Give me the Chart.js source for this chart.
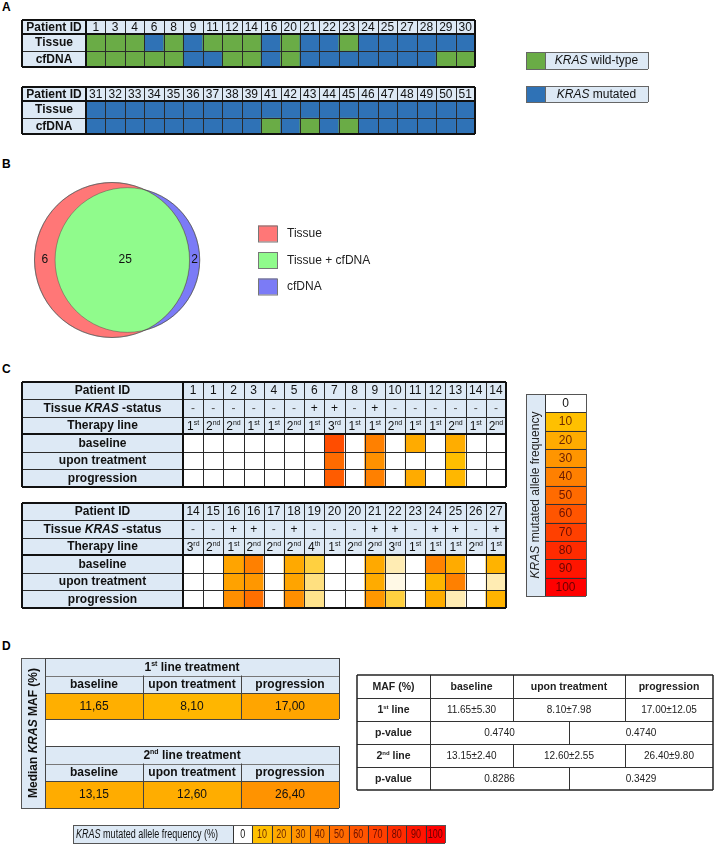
<!DOCTYPE html>
<html>
<head>
<meta charset="utf-8">
<script src="https://cdn.jsdelivr.net/npm/chart.js@4.4.1/dist/chart.umd.min.js"></script>
<style>
  html, body { margin: 0; padding: 0; background: #fff; }
  body { position: relative; width: 721px; height: 844px; overflow: hidden; }
  canvas { position: absolute; }
  .panel { position: absolute; font: bold 12px "Liberation Sans", Arial, sans-serif; line-height: 12px; color: #000; }
</style>
</head>
<body>
<div class="panel" style="left:2px;top:1px">A</div>
<div class="panel" style="left:2px;top:158px">B</div>
<div class="panel" style="left:2px;top:363px">C</div>
<div class="panel" style="left:2px;top:640px">D</div>
<script>
// ---- A: KRAS status per patient (W = wild-type, M = mutated)
var idsA1 = [1, 3, 4, 6, 8, 9, 11, 12, 14, 16, 20, 21, 22, 23, 24, 25, 27, 28, 29, 30];
var tissueA1 = ['W','W','W','M','W','M','W','W','W','M','W','M','M','W','M','M','M','M','M','M'];
var cfdnaA1  = ['W','W','W','W','W','M','M','W','W','M','W','M','M','M','M','M','M','M','W','W'];
var idsA2 = [31, 32, 33, 34, 35, 36, 37, 38, 39, 41, 42, 43, 44, 45, 46, 47, 48, 49, 50, 51];
var tissueA2 = ['M','M','M','M','M','M','M','M','M','M','M','M','M','M','M','M','M','M','M','M'];
var cfdnaA2  = ['M','M','M','M','M','M','M','M','M','W','M','W','M','W','M','M','M','M','M','M'];
var statusLegend = ['wild-type', 'mutated'];

// ---- B: concordance
var vennSets = ['Tissue', 'Tissue + cfDNA', 'cfDNA'];
var vennCounts = [6, 25, 2];

// ---- C: KRAS mutated allele frequency (%) per sample
var idsC1 = [1, 1, 2, 3, 4, 5, 6, 7, 8, 9, 10, 11, 12, 13, 14, 14];
var statusC1 = ['-','-','-','-','-','-','+','+','-','+','-','-','-','-','-','-'];
var lineC1 = ['1st','2nd','2nd','1st','1st','2nd','1st','3rd','1st','1st','2nd','1st','1st','2nd','1st','2nd'];
var baseC1 = [0, 0, 0, 0, 0, 0, 0, 64, 0, 40, 0, 20, 0, 19, 0, 0];
var uponC1 = [0, 0, 0, 0, 0, 0, 0, 50, 0, 32, 0, 0, 0, 11, 0, 0];
var progC1 = [0, 0, 0, 0, 0, 0, 0, 57, 0, 40, 0, 20, 0, 14, 0, 0];

var idsC2 = [14, 15, 16, 16, 17, 18, 19, 20, 20, 21, 22, 23, 24, 25, 26, 27];
var statusC2 = ['-','-','+','+','-','+','-','-','-','+','+','-','+','+','-','+'];
var lineC2 = ['3rd','2nd','1st','2nd','2nd','2nd','4th','1st','2nd','2nd','3rd','1st','1st','1st','2nd','1st'];
var baseC2 = [0, 0, 23, 40, 0, 21, 7.5, 0, 0, 21, 3, 0, 38, 20, 0, 16];
var uponC2 = [0, 0, 24, 29, 0, 23, 5, 0, 0, 20, 1, 0, 15, 40, 0, 3];
var progC2 = [0, 0, 33, 48, 0, 33, 4.5, 0, 0, 29, 7.5, 0, 19, 3, 0, 16];
var sampleRows = ['baseline', 'upon treatment', 'progression'];
var scaleSteps = [0, 10, 20, 30, 40, 50, 60, 70, 80, 90, 100];

// ---- D: median / mean MAF (%)
var phases = ['baseline', 'upon treatment', 'progression'];
var dLines = ['1st', '2nd'];
var medianLine1 = [11.65, 8.10, 17.00];
var medianLine2 = [13.15, 12.60, 26.40];
var meanLine1 = [11.65, 8.10, 17.00];
var sdLine1 = [5.30, 7.98, 12.05];
var meanLine2 = [13.15, 12.60, 26.40];
var sdLine2 = [2.40, 2.55, 9.80];
var pLine1 = [0.4740, 0.4740];
var pLine2 = [0.8286, 0.3429];

// ---------------------------------------------------------------
var FONT = '"Liberation Sans", Arial, Helvetica, sans-serif';
var LB = '#dde9f5', INK = '#111', GRID = '#2a2a2a';
var GREEN = '#6aac46', BLUE = '#2f72b6';

function font(size, bold, italic) {
  return (italic ? 'italic ' : '') + (bold ? 'bold ' : '') + size + 'px ' + FONT;
}
function mafColor(v) {
  if (v <= 0) return '#ffffff';
  if (v < 10) {
    var f = v / 10;
    return 'rgb(255,' + Math.round(255 - 63 * f) + ',' + Math.round(255 * (1 - f)) + ')';
  }
  return 'rgb(255,' + Math.round(192 - (v - 10) * 192 / 90) + ',0)';
}
function dColor(v) { return 'rgb(255,' + Math.round(197 - 1.9 * v) + ',0)'; }
function statusColor(s) { return s === 'W' ? GREEN : BLUE; }

function mk(x, y, w, h) {
  var c = document.createElement('canvas');
  c.width = w + 4; c.height = h + 4;
  c.style.left = (x - 2) + 'px'; c.style.top = (y - 2) + 'px';
  document.body.appendChild(c);
  return c;
}
function opts(extra) {
  var o = {
    responsive: false, animation: false, devicePixelRatio: 1, events: [],
    plugins: { legend: { display: false }, tooltip: { enabled: false } }
  };
  for (var k in extra) o[k] = extra[k];
  return o;
}
function pad(l, t, r, b) { return { autoPadding: false, padding: { left: l, top: t, right: r, bottom: b } }; }
function gridData(labels, rows) {
  return {
    labels: labels,
    datasets: rows.map(function (colors) {
      return { data: labels.map(function () { return 1; }), backgroundColor: colors,
               borderWidth: 0, barPercentage: 1, categoryPercentage: 1 };
    })
  };
}
function gridScales(n) {
  return { x: { display: false, stacked: true },
           y: { display: false, stacked: true, min: 0, max: n, reverse: true } };
}
function colEdges(scale, n) {
  var c0 = scale.getPixelForValue(0);
  var step = n > 1 ? scale.getPixelForValue(1) - c0 : (scale.right - scale.left);
  var e = [];
  for (var i = 0; i <= n; i++) e.push(c0 - step / 2 + i * step);
  return e;
}
function rowEdges(scale, n) {
  var e = [];
  for (var i = 0; i <= n; i++) e.push(scale.getPixelForValue(i));
  return e;
}
function seg(ctx, x1, y1, x2, y2, w, c) {
  ctx.beginPath();
  ctx.lineWidth = w; ctx.strokeStyle = c;
  var o = Math.round(w) % 2 === 1 ? 0.5 : 0;
  if (y1 === y2) { y1 = y2 = Math.round(y1) + o; } else { x1 = x2 = Math.round(x1) + o; }
  ctx.moveTo(x1, y1); ctx.lineTo(x2, y2); ctx.stroke();
}
function box(ctx, x1, y1, x2, y2, w, c) {
  seg(ctx, x1, y1, x2, y1, w, c); seg(ctx, x1, y2, x2, y2, w, c);
  seg(ctx, x1, y1, x1, y2, w, c); seg(ctx, x2, y1, x2, y2, w, c);
}
function rich(ctx, parts, x, y, align) {
  var w = 0;
  parts.forEach(function (p) { ctx.font = p[1]; w += ctx.measureText(p[0]).width; });
  var sx = align === 'left' ? x : x - w / 2;
  ctx.textAlign = 'left'; ctx.textBaseline = 'middle';
  parts.forEach(function (p) {
    ctx.font = p[1];
    ctx.fillText(p[0], sx, y + (p[2] || 0));
    sx += ctx.measureText(p[0]).width;
  });
  return w;
}
function ord(s, size, bold) {
  var n = s.match(/^\d+/)[0];
  return [[n, font(size, bold)], [s.slice(n.length), font(Math.round(size * 0.6), bold), -size * 0.3]];
}
function vtext(ctx, parts, cx, cy) {
  ctx.save(); ctx.translate(cx, cy); ctx.rotate(-Math.PI / 2);
  rich(ctx, parts, 0, 0); ctx.restore();
}

// ---------------------------------------------------------------- A
function legendA(ctx, a) {
  [[GREEN, statusLegend[0], 18, 17], [BLUE, statusLegend[1], 52, 16]].forEach(function (it) {
    var x = a.right + 51, y = a.top + it[2], h = it[3];
    ctx.fillStyle = it[0]; ctx.fillRect(x, y, 19, h);
    ctx.fillStyle = LB; ctx.fillRect(x + 19, y, 103, h);
    ctx.fillStyle = INK;
    rich(ctx, [['KRAS', font(12, false, true)], [' ' + it[1], font(12)]], x + 19 + 51.5, y + h / 2 + 0.5);
    box(ctx, x, y, x + 122, y + h, 1, '#666');
    seg(ctx, x + 19, y, x + 19, y + h, 1, '#666');
  });
}
function tableA(ids, rowNames, legend) {
  return { id: 'tableA', afterDatasetsDraw: function (chart) {
    var ctx = chart.ctx, a = chart.chartArea, L = 2, T = 2;
    var xs = colEdges(chart.scales.x, ids.length);
    var ys = rowEdges(chart.scales.y, rowNames.length);
    ctx.save();
    ctx.fillStyle = LB;
    ctx.fillRect(L, T, a.right - L, a.top - T);
    ctx.fillRect(L, a.top, a.left - L, a.bottom - a.top);
    ctx.fillStyle = INK;
    var hy = (T + a.top) / 2 + 0.5;
    rich(ctx, [['Patient ID', font(12, true)]], (L + a.left) / 2, hy);
    ids.forEach(function (id, i) { rich(ctx, [[String(id), font(12)]], (xs[i] + xs[i + 1]) / 2, hy); });
    rowNames.forEach(function (r, i) { rich(ctx, [[r, font(12, true)]], (L + a.left) / 2, (ys[i] + ys[i + 1]) / 2 + 0.5); });
    for (var i = 1; i < ids.length; i++) seg(ctx, xs[i], T, xs[i], a.bottom, 1, GRID);
    for (var j = 1; j < rowNames.length; j++) seg(ctx, L, ys[j], a.right, ys[j], 1, GRID);
    seg(ctx, L, a.top, a.right, a.top, 2, INK);
    seg(ctx, a.left, T, a.left, a.bottom, 2, INK);
    box(ctx, L, T, a.right, a.bottom, 2, INK);
    if (legend) legend(ctx, a);
    ctx.restore();
  } };
}
new Chart(mk(22, 20, 628, 84), {
  type: 'bar',
  data: gridData(idsA1, [tissueA1.map(statusColor), cfdnaA1.map(statusColor)]),
  options: opts({ layout: pad(66, 16, 177, 39), scales: gridScales(2) }),
  plugins: [tableA(idsA1, ['Tissue', 'cfDNA'], legendA)]
});
new Chart(mk(22, 87, 453, 47), {
  type: 'bar',
  data: gridData(idsA2, [tissueA2.map(statusColor), cfdnaA2.map(statusColor)]),
  options: opts({ layout: pad(66, 16, 2, 2), scales: gridScales(2) }),
  plugins: [tableA(idsA2, ['Tissue', 'cfDNA'], null)]
});

// ---------------------------------------------------------------- B
var RED_V = '#ff7777', GREEN_V = '#90fb8c', BLUE_V = '#7b7bf6';
var nTissue = vennCounts[0] + vennCounts[1], nCf = vennCounts[1] + vennCounts[2];
var kR = 13.92;
var rT = kR * Math.sqrt(nTissue), rC = kR * Math.sqrt(nCf);
function lens(d, r1, r2) {
  if (d <= Math.abs(r1 - r2)) return Math.PI * Math.pow(Math.min(r1, r2), 2);
  var a1 = Math.acos((d * d + r1 * r1 - r2 * r2) / (2 * d * r1));
  var a2 = Math.acos((d * d + r2 * r2 - r1 * r1) / (2 * d * r2));
  return r1 * r1 * a1 + r2 * r2 * a2 -
    0.5 * Math.sqrt((-d + r1 + r2) * (d + r1 - r2) * (d - r1 + r2) * (d + r1 + r2));
}
var target = vennCounts[1] / nTissue * Math.PI * rT * rT;
var lo = Math.abs(rT - rC), hi = rT + rC;
for (var it = 0; it < 60; it++) {
  var m = (lo + hi) / 2;
  if (lens(m, rT, rC) > target) lo = m; else hi = m;
}
var dist = (lo + hi) / 2;
var cxT = 112;

new Chart((function () {
  var c = document.createElement('canvas');
  c.width = 400; c.height = 170; c.style.left = '0px'; c.style.top = '175px';
  document.body.appendChild(c); return c;
})(), {
  type: 'bubble',
  data: { datasets: [
    { label: vennSets[0], data: [{ x: cxT, y: 0, r: rT }], backgroundColor: RED_V, borderColor: 'rgba(90,90,90,0.6)', borderWidth: 1 },
    { label: vennSets[2], data: [{ x: cxT + dist, y: 0, r: rC }], backgroundColor: BLUE_V, borderColor: 'rgba(90,90,90,0.6)', borderWidth: 1 }
  ] },
  options: opts({ layout: pad(0, 0, 160, 0),
    scales: { x: { display: false, min: 0, max: 240 }, y: { display: false, min: -85, max: 85 } } }),
  plugins: [{ id: 'venn', afterDatasetsDraw: function (chart) {
    var ctx = chart.ctx, a = chart.chartArea;
    var t = chart.getDatasetMeta(0).data[0], c = chart.getDatasetMeta(1).data[0];
    var rt = t.options.radius, rc = c.options.radius;
    ctx.save();
    ctx.beginPath(); ctx.arc(t.x, t.y, rt, 0, 2 * Math.PI); ctx.clip();
    ctx.beginPath(); ctx.arc(c.x, c.y, rc, 0, 2 * Math.PI);
    ctx.fillStyle = GREEN_V; ctx.fill();
    ctx.restore();
    ctx.save();
    ctx.lineWidth = 0.8; ctx.strokeStyle = 'rgba(70,70,70,0.55)';
    ctx.beginPath(); ctx.arc(t.x, t.y, rt, 0, 2 * Math.PI); ctx.stroke();
    ctx.beginPath(); ctx.arc(c.x, c.y, rc, 0, 2 * Math.PI); ctx.stroke();
    ctx.fillStyle = INK;
    var tl = t.x - rt, tr = t.x + rt, cl = c.x - rc, cr = c.x + rc;
    rich(ctx, [[String(vennCounts[0]), font(12)]], (tl + cl) / 2, t.y);
    rich(ctx, [[String(vennCounts[1]), font(12)]], (cl + tr) / 2 + 3, t.y);
    rich(ctx, [[String(vennCounts[2]), font(12)]], (tr + cr) / 2, t.y);
    [RED_V, GREEN_V, BLUE_V].forEach(function (col, i) {
      var y = t.y + (i - 1) * 26.5;
      ctx.fillStyle = col; ctx.fillRect(a.right + 18, y - 8, 19, 16);
      ctx.lineWidth = 1; ctx.strokeStyle = '#777';
      ctx.strokeRect(a.right + 18.5, y - 7.5, 19, 16);
      ctx.fillStyle = '#222';
      rich(ctx, [[vennSets[i], font(12)]], a.right + 47, y + 0.5, 'left');
    });
    ctx.restore();
  } }]
});

// ---------------------------------------------------------------- C
function tableC(ids, status, lines) {
  return { id: 'tableC', afterDatasetsDraw: function (chart) {
    var ctx = chart.ctx, a = chart.chartArea, L = 2, T = 2;
    var xs = colEdges(chart.scales.x, ids.length);
    var ys = rowEdges(chart.scales.y, sampleRows.length);
    var hh = (a.top - T) / 3, hy = [T, T + hh, T + 2 * hh, a.top];
    ctx.save();
    ctx.fillStyle = LB;
    ctx.fillRect(L, T, a.right - L, a.top - T);
    ctx.fillRect(L, a.top, a.left - L, a.bottom - a.top);
    ctx.fillStyle = INK;
    var cx = (L + a.left) / 2, B = font(12, true);
    var my = function (k) { return (hy[k] + hy[k + 1]) / 2 + 0.5; };
    rich(ctx, [['Patient ID', B]], cx, my(0));
    rich(ctx, [['Tissue ', B], ['KRAS', font(12, true, true)], [' -status', B]], cx, my(1));
    rich(ctx, [['Therapy line', B]], cx, my(2));
    sampleRows.forEach(function (r, i) { rich(ctx, [[r, B]], cx, (ys[i] + ys[i + 1]) / 2 + 0.5); });
    ids.forEach(function (id, i) {
      var mx = (xs[i] + xs[i + 1]) / 2;
      ctx.fillStyle = INK;
      rich(ctx, [[String(id), font(12)]], mx, my(0));
      ctx.fillStyle = status[i] === '+' ? INK : '#555';
      rich(ctx, [[status[i], font(12)]], mx, my(1));
      ctx.fillStyle = INK;
      rich(ctx, ord(lines[i], 12, false), mx, my(2) + 1);
    });
    for (var i = 1; i < ids.length; i++) seg(ctx, xs[i], T, xs[i], a.bottom, 1, GRID);
    seg(ctx, L, hy[1], a.right, hy[1], 1, GRID);
    seg(ctx, L, hy[2], a.right, hy[2], 1, GRID);
    for (var j = 1; j < sampleRows.length; j++) seg(ctx, L, ys[j], a.right, ys[j], 1, GRID);
    seg(ctx, L, a.top, a.right, a.top, 2, INK);
    seg(ctx, a.left, T, a.left, a.bottom, 2, INK);
    box(ctx, L, T, a.right, a.bottom, 2, INK);
    ctx.restore();
  } };
}
new Chart(mk(22, 382, 484, 105), {
  type: 'bar',
  data: gridData(idsC1, [baseC1.map(mafColor), uponC1.map(mafColor), progC1.map(mafColor)]),
  options: opts({ layout: pad(163, 54, 2, 2), scales: gridScales(3) }),
  plugins: [tableC(idsC1, statusC1, lineC1)]
});
new Chart(mk(22, 503, 484, 105), {
  type: 'bar',
  data: gridData(idsC2, [baseC2.map(mafColor), uponC2.map(mafColor), progC2.map(mafColor)]),
  options: opts({ layout: pad(163, 54, 2, 2), scales: gridScales(3) }),
  plugins: [tableC(idsC2, statusC2, lineC2)]
});

// colour key column
new Chart(mk(526, 394, 60, 202), {
  type: 'bar',
  data: { labels: scaleSteps.map(String), datasets: [{
    data: scaleSteps.map(function () { return 1; }), backgroundColor: scaleSteps.map(mafColor),
    borderWidth: 0, barPercentage: 1, categoryPercentage: 1 }] },
  options: opts({ indexAxis: 'y', layout: pad(21, 2, 2, 2),
    scales: { x: { display: false, min: 0, max: 1 }, y: { display: false } } }),
  plugins: [{ id: 'keyC', afterDatasetsDraw: function (chart) {
    var ctx = chart.ctx, a = chart.chartArea, L = 2, T = 2;
    var ys = colEdges(chart.scales.y, scaleSteps.length);
    ctx.save();
    ctx.fillStyle = LB; ctx.fillRect(L, T, a.left - L, a.bottom - T);
    ctx.fillStyle = '#222';
    vtext(ctx, [['KRAS', font(12, false, true)], [' mutated allele frequency', font(12)]], (L + a.left) / 2 + 0.5, (T + a.bottom) / 2);
    scaleSteps.forEach(function (s, i) {
      ctx.fillStyle = s === 0 ? '#111' : 'rgba(70,0,0,0.8)';
      rich(ctx, [[String(s), font(12)]], (a.left + a.right) / 2, (ys[i] + ys[i + 1]) / 2 + 0.5);
    });
    for (var i = 1; i < scaleSteps.length; i++) seg(ctx, a.left, ys[i], a.right, ys[i], 1, '#333');
    seg(ctx, a.left, T, a.left, a.bottom, 1, '#333');
    box(ctx, L, T, a.right, a.bottom, 1, '#555');
    ctx.restore();
  } }]
});

// ---------------------------------------------------------------- D
function tableD(lineLabel, values, withSide) {
  return { id: 'tableD', afterDatasetsDraw: function (chart) {
    var ctx = chart.ctx, a = chart.chartArea, L = 2, T = 2, H = chart.height - 2;
    var xs = colEdges(chart.scales.x, phases.length);
    var mid = (T + a.top) / 2;
    ctx.save();
    ctx.fillStyle = LB;
    ctx.fillRect(a.left, T, a.right - a.left, a.top - T);
    if (withSide) ctx.fillRect(L, T, a.left - L, H - T);
    ctx.fillStyle = INK;
    rich(ctx, ord(lineLabel, 12, true).concat([[' line treatment', font(12, true)]]), (a.left + a.right) / 2, (T + mid) / 2 + 1);
    phases.forEach(function (p, i) {
      var mx = (xs[i] + xs[i + 1]) / 2;
      rich(ctx, [[p, font(12, true)]], mx, (mid + a.top) / 2 + 0.5);
      rich(ctx, [[values[i].toFixed(2).replace('.', ','), font(12)]], mx, (a.top + a.bottom) / 2 + 0.5);
    });
    if (withSide) {
      vtext(ctx, [['Median ', font(12, true)], ['KRAS', font(12, true, true)], [' MAF (%)', font(12, true)]], (L + a.left) / 2 + 1, (T + H) / 2);
      box(ctx, L, T, a.left, H, 1, '#555');
    }
    seg(ctx, a.left, mid, a.right, mid, 1, '#777');
    seg(ctx, a.left, a.top, a.right, a.top, 1, '#444');
    for (var i = 1; i < phases.length; i++) seg(ctx, xs[i], mid, xs[i], a.bottom, 1, '#444');
    box(ctx, a.left, T, a.right, a.bottom, 1, '#444');
    ctx.restore();
  } };
}
new Chart(mk(21, 658, 318, 150), {
  type: 'bar',
  data: gridData(phases, [medianLine1.map(dColor)]),
  options: opts({ layout: pad(26, 37, 2, 91), scales: gridScales(1) }),
  plugins: [tableD(dLines[0], medianLine1, true)]
});
new Chart(mk(45, 746, 294, 62), {
  type: 'bar',
  data: gridData(phases, [medianLine2.map(dColor)]),
  options: opts({ layout: pad(2, 37, 2, 2), scales: gridScales(1) }),
  plugins: [tableD(dLines[1], medianLine2, false)]
});

// mean +- sd table
var rowsD = ['MAF (%)', dLines[0] + ' line', 'p-value', dLines[1] + ' line', 'p-value'];
new Chart(mk(357, 675, 356, 115), {
  type: 'bar',
  data: { labels: phases, datasets: [] },
  options: opts({ layout: pad(2, 2, 2, 2),
    scales: { x: { display: false }, y: { type: 'category', labels: rowsD, offset: true, display: false } } }),
  plugins: [{ id: 'statsD', afterDraw: function (chart) {
    var ctx = chart.ctx, a = chart.chartArea;
    var ys = colEdges(chart.scales.y, rowsD.length);
    var colW = [73, 83, 112, 88], tot = 356, xs = [a.left];
    colW.forEach(function (w) { xs.push(xs[xs.length - 1] + w / tot * (a.right - a.left)); });
    var split = (xs[2] + xs[3]) / 2;
    var cy = function (r) { return (ys[r] + ys[r + 1]) / 2 + 0.5; };
    var cxx = function (c) { return (xs[c] + xs[c + 1]) / 2; };
    var HB = font(10.5, true), V = font(10);
    ctx.save();
    ctx.fillStyle = '#222';
    rich(ctx, [[rowsD[0], HB]], cxx(0), cy(0));
    phases.forEach(function (p, i) { rich(ctx, [[p, HB]], cxx(i + 1), cy(0)); });
    rich(ctx, ord(dLines[0], 10.5, true).concat([[' line', HB]]), cxx(0), cy(1) + 0.5);
    rich(ctx, ord(dLines[1], 10.5, true).concat([[' line', HB]]), cxx(0), cy(3) + 0.5);
    rich(ctx, [[rowsD[2], HB]], cxx(0), cy(2));
    rich(ctx, [[rowsD[4], HB]], cxx(0), cy(4));
    phases.forEach(function (p, i) {
      rich(ctx, [[meanLine1[i].toFixed(2) + '\u00b1' + sdLine1[i].toFixed(2), V]], cxx(i + 1), cy(1));
      rich(ctx, [[meanLine2[i].toFixed(2) + '\u00b1' + sdLine2[i].toFixed(2), V]], cxx(i + 1), cy(3));
    });
    rich(ctx, [[pLine1[0].toFixed(4), V]], (xs[1] + split) / 2, cy(2));
    rich(ctx, [[pLine1[1].toFixed(4), V]], (split + xs[4]) / 2, cy(2));
    rich(ctx, [[pLine2[0].toFixed(4), V]], (xs[1] + split) / 2, cy(4));
    rich(ctx, [[pLine2[1].toFixed(4), V]], (split + xs[4]) / 2, cy(4));
    for (var r = 1; r < rowsD.length; r++) seg(ctx, a.left, ys[r], a.right, ys[r], 1, '#333');
    seg(ctx, xs[1], a.top, xs[1], a.bottom, 1, '#333');
    [0, 1, 3].forEach(function (r) {
      seg(ctx, xs[2], ys[r], xs[2], ys[r + 1], 1, '#333');
      seg(ctx, xs[3], ys[r], xs[3], ys[r + 1], 1, '#333');
    });
    [2, 4].forEach(function (r) { seg(ctx, split, ys[r], split, ys[r + 1], 1, '#333'); });
    box(ctx, a.left, a.top, a.right, a.bottom, 1.5, '#222');
    ctx.restore();
  } }]
});

// colour key bar
new Chart(mk(73, 825, 372, 18), {
  type: 'bar',
  data: gridData(scaleSteps.map(String), [scaleSteps.map(mafColor)]),
  options: opts({ layout: pad(162, 2, 2, 2), scales: gridScales(1) }),
  plugins: [{ id: 'keyBar', afterDatasetsDraw: function (chart) {
    var ctx = chart.ctx, a = chart.chartArea, L = 2;
    var xs = colEdges(chart.scales.x, scaleSteps.length);
    var my = (a.top + a.bottom) / 2 + 0.5;
    ctx.save();
    ctx.fillStyle = LB; ctx.fillRect(L, a.top, a.left - L, a.bottom - a.top);
    var parts = [['KRAS', font(12, false, true)], [' mutated allele frequency (%)', font(12)]];
    var w = 0;
    parts.forEach(function (p) { ctx.font = p[1]; w += ctx.measureText(p[0]).width; });
    ctx.save(); ctx.translate(L + 3, my); ctx.scale(142 / w, 1);
    ctx.fillStyle = '#111'; rich(ctx, parts, 0, 0, 'left'); ctx.restore();
    scaleSteps.forEach(function (s, i) {
      ctx.save(); ctx.translate((xs[i] + xs[i + 1]) / 2, my); ctx.scale(0.75, 1);
      ctx.fillStyle = s === 0 ? '#111' : 'rgba(70,0,0,0.8)';
      rich(ctx, [[String(s), font(12)]], 0, 0); ctx.restore();
    });
    for (var i = 1; i < scaleSteps.length; i++) seg(ctx, xs[i], a.top, xs[i], a.bottom, 1, '#333');
    seg(ctx, a.left, a.top, a.left, a.bottom, 1, '#333');
    box(ctx, L, a.top, a.right, a.bottom, 1, '#555');
    ctx.restore();
  } }]
});
</script>
</body>
</html>
